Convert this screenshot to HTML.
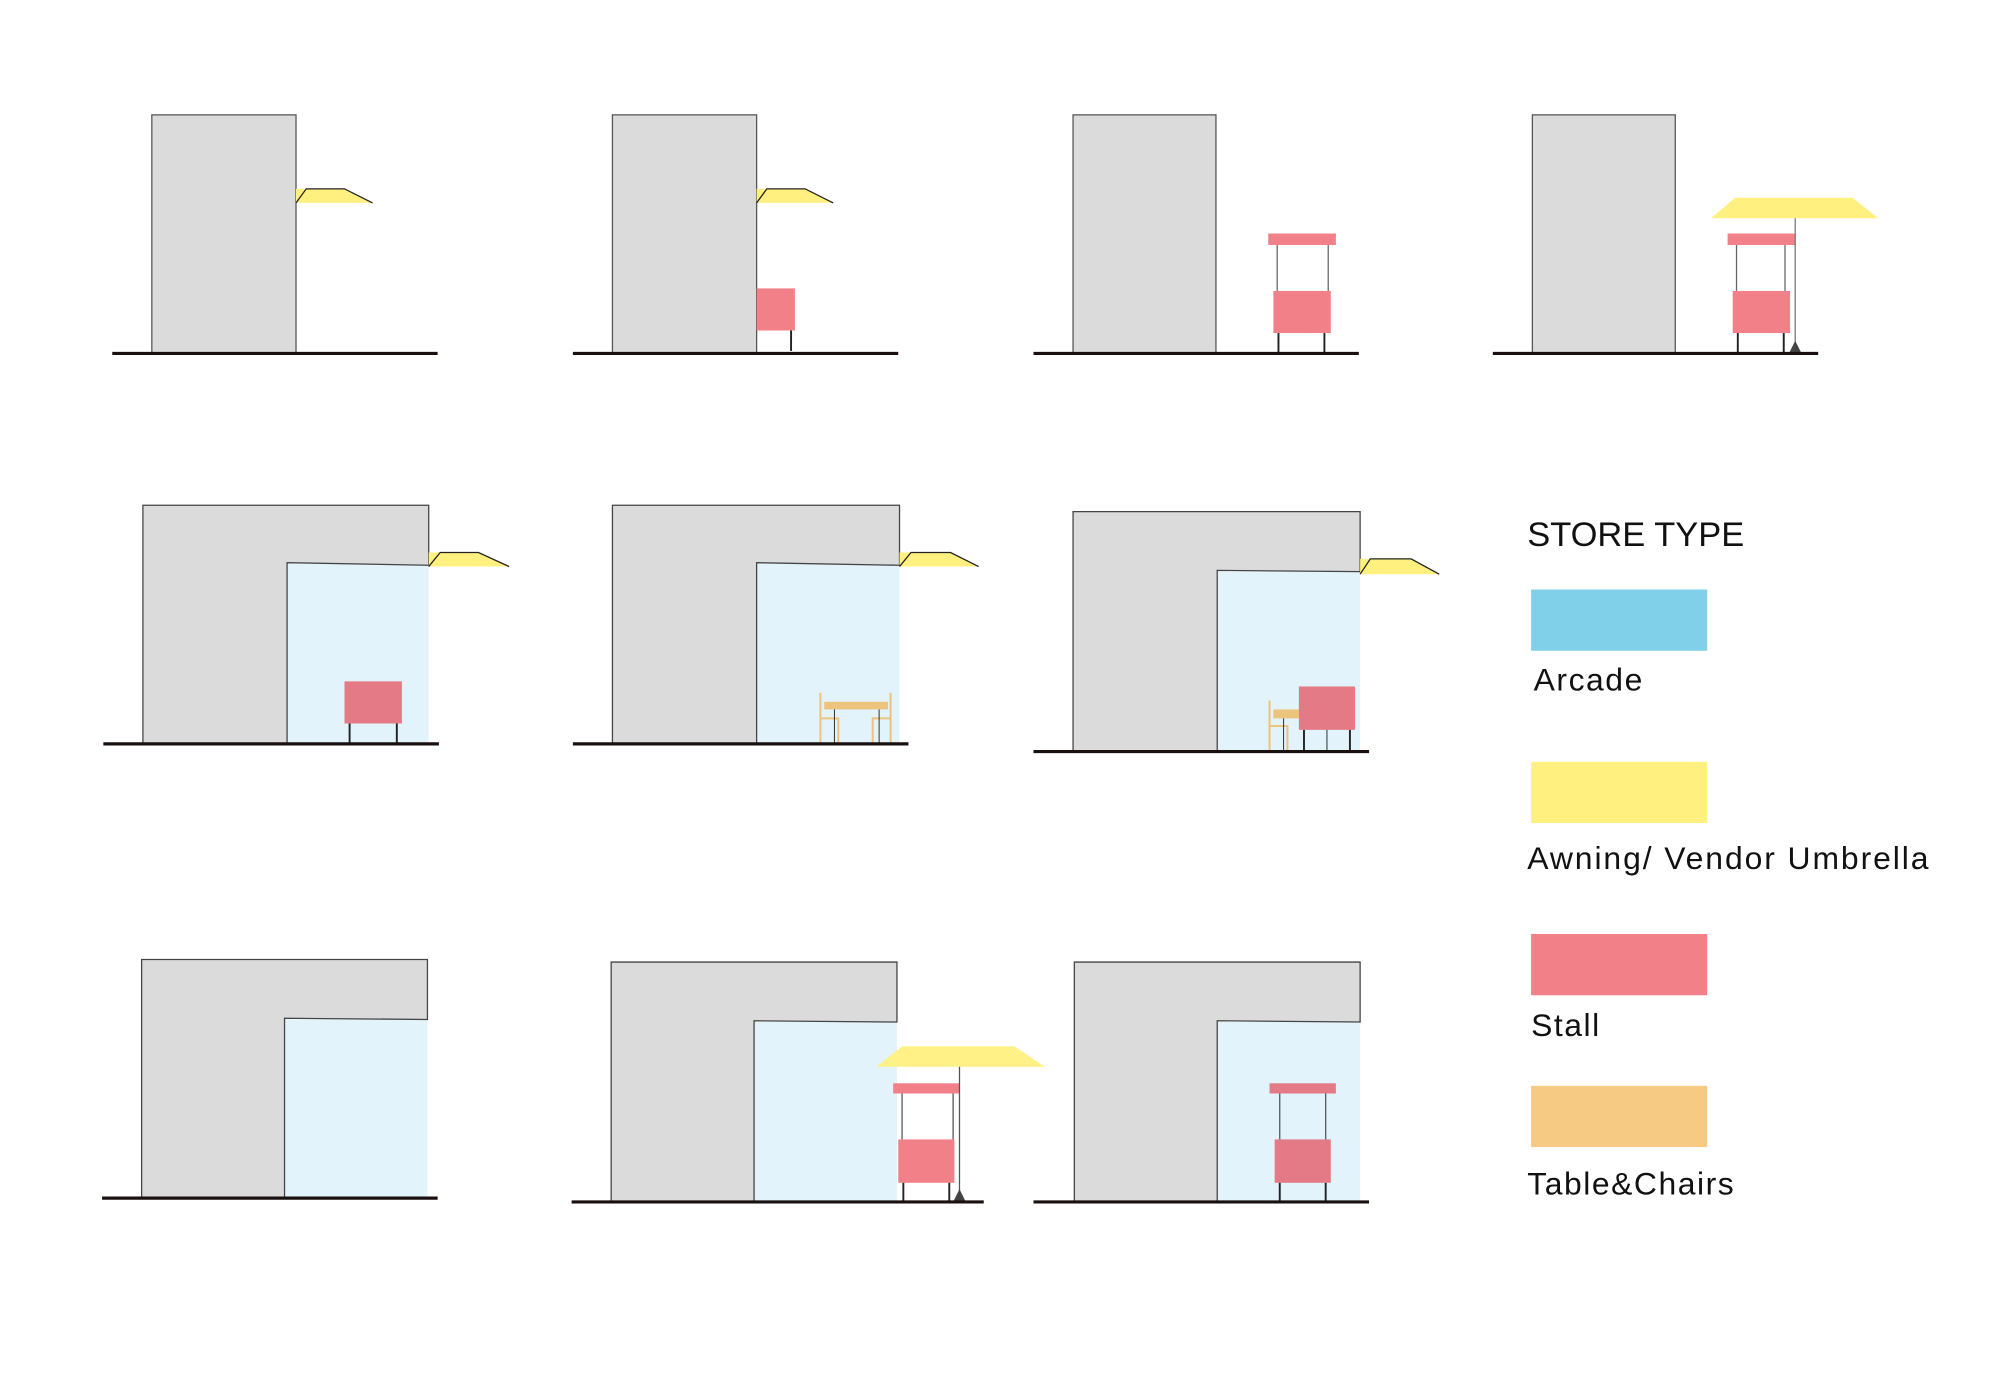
<!DOCTYPE html>
<html><head><meta charset="utf-8"><style>
html,body{margin:0;padding:0;background:#fff}
svg{display:block}
text{font-family:"Liberation Sans",sans-serif;fill:#111}
</style></head><body>
<svg width="2000" height="1394" viewBox="0 0 1567.5 1092.5" xmlns="http://www.w3.org/2000/svg">
<g stroke-linecap="butt">
<!-- P1 -->
<rect x="119" y="90" width="113" height="187" fill="#dbdbdb" stroke="#555" stroke-width="1"/>
<polygon points="232,148 270,148 292,159 232,159" fill="#fff080"/>
<polyline points="232,159 240,148 270,148 292,159" fill="none" stroke="#222" stroke-width="1"/>
<line x1="88" y1="277" x2="343" y2="277" stroke="#1a1010" stroke-width="2.5"/>
<!-- P2 -->
<rect x="480" y="90" width="113" height="187" fill="#dbdbdb" stroke="#555" stroke-width="1"/>
<polygon points="593,148 631,148 653,159 593,159" fill="#fff080"/>
<polyline points="593,159 601,148 631,148 653,159" fill="none" stroke="#222" stroke-width="1"/>
<rect x="593" y="226" width="30" height="33" fill="#f28088"/>
<line x1="620" y1="259" x2="620" y2="275" stroke="#222" stroke-width="1.5"/>
<line x1="449" y1="277" x2="704" y2="277" stroke="#1a1010" stroke-width="2.5"/>
<!-- P3 -->
<rect x="841" y="90" width="112" height="187" fill="#dbdbdb" stroke="#555" stroke-width="1"/>
<rect x="994" y="183" width="53" height="9" fill="#f28088"/>
<line x1="1001" y1="192" x2="1001" y2="228" stroke="#666" stroke-width="1"/>
<line x1="1041" y1="192" x2="1041" y2="228" stroke="#666" stroke-width="1"/>
<rect x="998" y="228" width="45" height="33" fill="#f28088"/>
<line x1="1002" y1="261" x2="1002" y2="277" stroke="#222" stroke-width="1.5"/>
<line x1="1038" y1="261" x2="1038" y2="277" stroke="#222" stroke-width="1.5"/>
<line x1="810" y1="277" x2="1065" y2="277" stroke="#1a1010" stroke-width="2.5"/>
<!-- P4 -->
<rect x="1201" y="90" width="112" height="187" fill="#dbdbdb" stroke="#555" stroke-width="1"/>
<polygon points="1360,155 1452,155 1472,171 1341,171" fill="#fff080"/>
<rect x="1354" y="183" width="53" height="9" fill="#f28088"/>
<line x1="1361" y1="192" x2="1361" y2="228" stroke="#666" stroke-width="1"/>
<line x1="1399" y1="192" x2="1399" y2="228" stroke="#666" stroke-width="1"/>
<rect x="1358" y="228" width="45" height="33" fill="#f28088"/>
<line x1="1362" y1="261" x2="1362" y2="277" stroke="#222" stroke-width="1.5"/>
<line x1="1398" y1="261" x2="1398" y2="277" stroke="#222" stroke-width="1.5"/>
<line x1="1407" y1="171" x2="1407" y2="272" stroke="#777" stroke-width="1"/>
<polygon points="1407,267 1402,277 1412,277" fill="#444"/>
<line x1="1170" y1="277" x2="1425" y2="277" stroke="#1a1010" stroke-width="2.5"/>

<!-- P5 -->
<rect x="225" y="442" width="111" height="141" fill="#e2f3fb"/>
<path d="M112,583 V396 H336 V443 L225,441 V583 Z" fill="#dbdbdb" stroke="#444" stroke-width="1"/>
<polygon points="336,433 375,433 399,444 336,444" fill="#fff080"/>
<polyline points="336,444 345,433 375,433 399,444" fill="none" stroke="#222" stroke-width="1"/>
<rect x="270" y="534" width="45" height="33" fill="#e47a86"/>
<line x1="274" y1="567" x2="274" y2="583" stroke="#222" stroke-width="1.5"/>
<line x1="311" y1="567" x2="311" y2="583" stroke="#222" stroke-width="1.5"/>
<line x1="81" y1="583" x2="344" y2="583" stroke="#1a1010" stroke-width="2.5"/>
<!-- P6 -->
<rect x="593" y="442" width="112" height="141" fill="#e2f3fb"/>
<path d="M480,583 V396 H705 V443 L593,441 V583 Z" fill="#dbdbdb" stroke="#444" stroke-width="1"/>
<polygon points="705,433 745,433 767,444 705,444" fill="#fff080"/>
<polyline points="705,444 714,433 745,433 767,444" fill="none" stroke="#222" stroke-width="1"/>
<g fill="none" stroke="#eec37a" stroke-width="1.6">
<line x1="643" y1="543" x2="643" y2="583"/><polyline points="643,563 657,563 657,583"/>
<line x1="698" y1="543" x2="698" y2="583"/><polyline points="698,563 684,563 684,583"/>
</g>
<rect x="646" y="550" width="50" height="6" fill="#ecc47e"/>
<line x1="654" y1="556" x2="654" y2="583" stroke="#333" stroke-width="0.8"/>
<line x1="689" y1="556" x2="689" y2="583" stroke="#333" stroke-width="0.8"/>
<line x1="449" y1="583" x2="712" y2="583" stroke="#1a1010" stroke-width="2.5"/>
<!-- P7 -->
<rect x="954" y="448" width="112" height="141" fill="#e2f3fb"/>
<path d="M841,589 V401 H1066 V448 L954,447 V589 Z" fill="#dbdbdb" stroke="#444" stroke-width="1"/>
<polygon points="1066,438 1106,438 1128,450 1066,450" fill="#fff080"/>
<polyline points="1066,450 1074,438 1106,438 1128,450" fill="none" stroke="#222" stroke-width="1"/>
<g fill="none" stroke="#eec37a" stroke-width="1.6">
<line x1="995" y1="549" x2="995" y2="589"/><polyline points="995,569 1009,569 1009,589"/>
</g>
<rect x="998" y="556" width="20" height="7" fill="#ecc47e"/>
<line x1="1006" y1="563" x2="1006" y2="589" stroke="#333" stroke-width="0.8"/>
<rect x="1018" y="538" width="44" height="34" fill="#e47a86"/>
<line x1="1022" y1="572" x2="1022" y2="589" stroke="#222" stroke-width="1.5"/>
<line x1="1040" y1="572" x2="1040" y2="589" stroke="#333" stroke-width="0.8"/>
<line x1="1058" y1="572" x2="1058" y2="589" stroke="#222" stroke-width="1.5"/>
<line x1="810" y1="589" x2="1073" y2="589" stroke="#1a1010" stroke-width="2.5"/>

<!-- P8 -->
<rect x="223" y="799" width="112" height="140" fill="#e2f3fb"/>
<path d="M111,939 V752 H335 V799 L223,798 V939 Z" fill="#dbdbdb" stroke="#444" stroke-width="1"/>
<line x1="80" y1="939" x2="343" y2="939" stroke="#1a1010" stroke-width="2.5"/>
<!-- P9 -->
<rect x="591" y="801" width="112" height="141" fill="#e2f3fb"/>
<path d="M479,942 V754 H703 V801 L591,800 V942 Z" fill="#dbdbdb" stroke="#444" stroke-width="1"/>
<polygon points="707,820 795,820 819,836 687,836" fill="#fff080" fill-opacity="0.95"/>
<rect x="700" y="849" width="52" height="8" fill="#f28088"/>
<line x1="707" y1="857" x2="707" y2="893" stroke="#555" stroke-width="1"/>
<line x1="747" y1="857" x2="747" y2="893" stroke="#555" stroke-width="1"/>
<rect x="704" y="893" width="44" height="34" fill="#f28088"/>
<line x1="708" y1="927" x2="708" y2="942" stroke="#222" stroke-width="1.5"/>
<line x1="744" y1="927" x2="744" y2="942" stroke="#222" stroke-width="1.5"/>
<line x1="752" y1="836" x2="752" y2="938" stroke="#555" stroke-width="1"/>
<polygon points="752,932 747,942 757,942" fill="#444"/>
<line x1="448" y1="942" x2="771" y2="942" stroke="#1a1010" stroke-width="2.5"/>
<!-- P10 -->
<rect x="954" y="801" width="112" height="141" fill="#e2f3fb"/>
<path d="M842,942 V754 H1066 V801 L954,800 V942 Z" fill="#dbdbdb" stroke="#444" stroke-width="1"/>
<rect x="995" y="849" width="52" height="8" fill="#e47a86"/>
<line x1="1003" y1="857" x2="1003" y2="893" stroke="#555" stroke-width="1"/>
<line x1="1039" y1="857" x2="1039" y2="893" stroke="#555" stroke-width="1"/>
<rect x="999" y="893" width="44" height="34" fill="#e47a86"/>
<line x1="1003" y1="927" x2="1003" y2="942" stroke="#222" stroke-width="1.5"/>
<line x1="1039" y1="927" x2="1039" y2="942" stroke="#222" stroke-width="1.5"/>
<line x1="810" y1="942" x2="1073" y2="942" stroke="#1a1010" stroke-width="2.5"/>
</g>

<!-- Legend -->
<text x="1197" y="428" font-size="27">STORE TYPE</text>
<rect x="1200" y="462" width="138" height="48" fill="#7fd0e8"/>
<text x="1202" y="541" font-size="25" letter-spacing="1.2">Arcade</text>
<rect x="1200" y="597" width="138" height="48" fill="#fff080"/>
<text x="1197" y="681" font-size="25" letter-spacing="1.5">Awning/ Vendor Umbrella</text>
<rect x="1200" y="732" width="138" height="48" fill="#f28088"/>
<text x="1200" y="812" font-size="25" letter-spacing="1.2">Stall</text>
<rect x="1200" y="851" width="138" height="48" fill="#f7ca84"/>
<text x="1197" y="936" font-size="25" letter-spacing="1.2">Table&amp;Chairs</text>
</svg>
</body></html>
